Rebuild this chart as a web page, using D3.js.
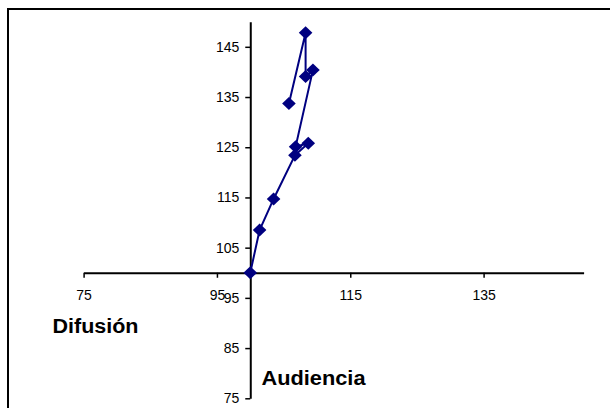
<!DOCTYPE html>
<html>
<head>
<meta charset="utf-8">
<script src="https://cdn.jsdelivr.net/npm/d3@7"></script>
<style>
  html, body { margin: 0; padding: 0; background: #fff; }
  svg { display: block; }
  text { font-family: "Liberation Sans", Arial, sans-serif; }
</style>
</head>
<body>
<svg id="chart" width="610" height="408"></svg>
<script>
// Data (in series order)
const xValues = [100, 101.4, 103.5, 106.7, 108.7, 106.8, 109.4, 108.3, 108.3, 105.8];
const yValues = [100, 108.5, 114.7, 123.4, 125.8, 125.1, 140.4, 139.1, 147.8, 133.7];
const xTicks = [75, 95, 115, 135];
const yTicks = [75, 85, 95, 105, 115, 125, 135, 145];
const xTitle = "Difusión";
const yTitle = "Audiencia";

const svg = d3.select("#chart");

// Frame
svg.append("rect")
  .attr("x", 8).attr("y", 9)
  .attr("width", 620).attr("height", 420)
  .attr("fill", "#fff").attr("stroke", "#000").attr("stroke-width", 2);

const x = d3.scaleLinear().domain([75, 150]).range([83.6, 583.6]);
const y = d3.scaleLinear().domain([75, 150]).range([398.3, 21.7]);

// X axis crossing at y=100
const xAxis = svg.append("g")
  .attr("transform", `translate(0,${y(100)})`)
  .call(d3.axisBottom(x).tickValues(xTicks).tickSize(5).tickPadding(12).tickSizeOuter(0));
// Y axis crossing at x=100
const yAxis = svg.append("g")
  .attr("transform", `translate(${x(100)},0)`)
  .call(d3.axisLeft(y).tickValues(yTicks).tickSize(5).tickPadding(6).tickSizeOuter(0));

[xAxis, yAxis].forEach(g => {
  g.select(".domain").attr("stroke", "#000").attr("stroke-width", 2);
  g.selectAll(".tick line").attr("stroke", "#000").attr("stroke-width", 1.5);
  g.selectAll(".tick text")
    .attr("fill", "#000")
    .style("font-family", '"Liberation Sans", Arial, sans-serif')
    .style("font-size", "14px");
});
xAxis.selectAll(".tick text").attr("dy", "0.71em");

// Line
const pts = xValues.map((v, i) => [v, yValues[i]]);
svg.append("path")
  .datum(pts)
  .attr("fill", "none")
  .attr("stroke", "#000080")
  .attr("stroke-width", 2)
  .attr("d", d3.line().x(d => x(d[0])).y(d => y(d[1])));

// Diamond markers
svg.append("g").selectAll("path")
  .data(pts)
  .join("path")
  .attr("transform", d => `translate(${x(d[0])},${y(d[1])})`)
  .attr("d", "M0,-6.5L6.8,0L0,6.5L-6.8,0Z")
  .attr("fill", "#000080");

// Titles
svg.append("text")
  .attr("x", 52.5).attr("y", 333.3)
  .attr("textLength", 86).attr("lengthAdjust", "spacingAndGlyphs")
  .style("font-size", "20px").style("font-weight", "bold")
  .attr("fill", "#000")
  .text(xTitle);
svg.append("text")
  .attr("x", 261.5).attr("y", 385)
  .attr("textLength", 104).attr("lengthAdjust", "spacingAndGlyphs")
  .style("font-size", "20px").style("font-weight", "bold")
  .attr("fill", "#000")
  .text(yTitle);
</script>
</body>
</html>
